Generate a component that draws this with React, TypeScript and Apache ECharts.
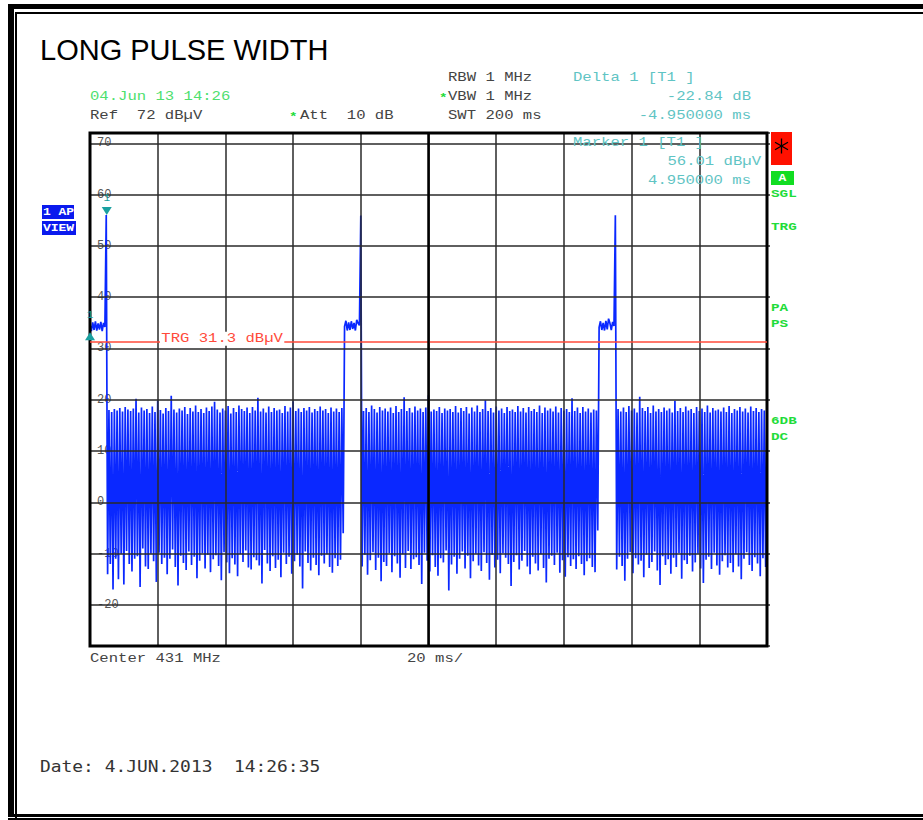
import React, { useEffect, useRef } from "react";
import * as echarts from "echarts";

// ---------- data ----------
const SWEEP_MS = 200;
const DIV_MS = 20;
const REF_LEVEL = 72;
const Y_MIN = -28;
const TRG_LEVEL = 31.3;
const MARKER1 = { t: 4.95, v: 56.01 };
const DELTA1 = { dt: -4.95, dv: -22.84 };

const pulse1 = [34.6, 33.4, 35.1, 33.6, 35.3, 33.5, 34.9, 33.7, 35.2, 33.4, 35.0, 34.2];
const spike1 = [56.01];
const noise1 = [
  -14, 18, -12, 17.6, -17, 18.2, -11, 17.9, -15, 18.4, -10, 17.7, -16, 18.6, -9.5, 18.1, -12, 17.8, -13.5, 18.3,
  -11, 20.2, -10.5, 17.5, -16.5, 18.5, -9, 17.9, -12.5, 18.2, -13, 17.4, -10, 18.7, -11.5, 17.6, -15.5, 19.8, -9.8, 18.0,
  -12, 17.3, -10.8, 18.4, -14, 17.8, -11, 20.8, -9.2, 18.1, -12.6, 17.5, -16.2, 18.3, -10.4, 17.9, -11.8, 18.6, -13.2, 17.2,
  -9.6, 18.4, -12.2, 17.7, -10.6, 18.9, -14.8, 17.6, -11.4, 18.2, -9.9, 17.4, -12.9, 18.5, -10.2, 17.8, -13.6, 18.7, -11.1, 19.6,
  -10.3, 18.1, -12.4, 17.5, -15.2, 18.3, -9.7, 17.9, -11.7, 18.8, -13.8, 17.3, -10.9, 18.4, -12.1, 17.6, -14.4, 18.9, -10.1, 18.2,
  -11.6, 17.8, -9.4, 18.5, -12.7, 17.4, -13.1, 18.6, -10.7, 17.9, -11.3, 20.4, -12.3, 17.7, -15.8, 18.3, -9.3, 17.5, -11.9, 18.7,
  -13.4, 17.6, -10.5, 18.4, -12.8, 17.9, -11.2, 18.1, -14.6, 17.4, -9.8, 18.8, -12.0, 17.7, -10.6, 18.5, -13.9, 19.7, -11.5, 17.8,
  -10.2, 18.3, -12.5, 17.6, -16.8, 18.4, -9.6, 17.9, -11.8, 18.6, -13.3, 17.5, -10.8, 18.2, -12.2, 17.8, -14.2, 18.7, -10.4, 17.9,
  -11.9, 18.2, -10.1, 17.4, -12.6, 18.5, -13.7, 17.7, -10.9, 18.3, -12.4, 17.6, -11.2, 18.4, -6.0,
];
const pulse2 = [34.3, 35.4, 33.5, 35.1, 33.6, 35.3, 33.8, 35.0, 33.5, 35.6, 34.9, 34.5];
const spike2 = [55.9];
const noise2 = [
  -12.5, 17.8, -10.2, 18.4, -14.1, 17.6, -11.3, 18.9, -9.7, 18.2, -13.2, 17.5, -10.8, 18.6, -15.4, 17.9, -11.6, 18.3, -12.4, 17.7,
  -9.9, 18.5, -13.6, 17.4, -10.5, 18.8, -11.9, 17.6, -14.7, 18.2, -10.1, 20.5, -12.8, 17.8, -9.5, 18.4, -13.0, 17.5, -11.1, 18.7,
  -10.7, 17.9, -12.2, 18.3, -15.9, 17.6, -9.8, 18.5, -11.4, 20.9, -13.5, 17.7, -10.3, 18.1, -12.6, 17.8, -14.3, 18.6, -10.9, 17.4,
  -11.7, 18.3, -9.4, 17.9, -17.2, 18.2, -12.1, 17.6, -10.6, 18.8, -13.9, 17.5, -11.0, 18.4, -9.6, 17.8, -12.9, 18.6, -10.4, 17.3,
  -14.8, 18.5, -11.5, 17.7, -10.0, 18.9, -12.3, 17.6, -13.4, 18.2, -9.7, 19.9, -11.8, 17.8, -15.1, 18.4, -10.2, 17.5, -12.7, 18.7,
  -11.2, 17.9, -13.8, 18.3, -9.9, 17.4, -10.8, 18.6, -12.0, 17.8, -16.3, 18.1, -11.6, 17.6, -10.3, 18.8, -13.1, 17.7, -11.4, 18.4,
  -9.5, 17.5, -12.5, 18.6, -14.0, 17.8, -10.6, 18.2, -11.9, 17.6, -13.3, 18.9, -10.1, 17.4, -12.8, 18.5, -15.6, 17.9, -11.0, 18.3,
  -10.4, 17.7, -12.2, 18.7, -9.8, 17.5, -13.7, 18.4, -11.3, 17.9, -14.5, 18.2, -10.7, 17.6, -12.4, 20.3, -11.1, 17.8, -13.0, 18.5,
  -10.5, 17.4, -12.0, 18.6, -14.2, 17.7, -11.5, 18.3, -10.9, 17.5, -12.6, 18.1, -13.6, 17.9, -5.5,
];
const pulse3 = [34.1, 35.3, 33.6, 35.0, 33.5, 35.4, 33.7, 35.8, 34.9, 33.6, 35.2, 34.4];
const spike3 = [55.95];
const noise3 = [
  -13.1, 18.2, -10.6, 17.7, -12.4, 18.5, -15.3, 17.6, -11.0, 18.8, -9.7, 17.9, -13.8, 18.3, -10.9, 17.5, -12.1, 20.6, -11.4, 18.4,
  -14.6, 17.8, -10.2, 18.6, -12.8, 17.4, -11.6, 18.9, -9.6, 17.7, -13.3, 18.2, -16.1, 17.6, -10.5, 18.5, -12.2, 17.9, -11.1, 18.3,
  -13.9, 17.5, -10.8, 19.8, -12.6, 17.8, -9.9, 18.4, -14.9, 17.6, -11.3, 18.7, -12.0, 17.9, -10.4, 18.2, -13.5, 17.4, -11.7, 18.6,
  -10.0, 17.8, -12.9, 18.3, -15.7, 17.6, -11.2, 18.9, -10.6, 17.5, -13.0, 18.4, -9.8, 17.9, -12.3, 18.1, -14.1, 17.7, -11.5, 18.5,
  -10.3, 17.6, -12.7, 18.8, -11.8, 17.4, -13.6, 18.2, -10.1, 17.9, -12.5, 18.6, -15.0, 17.7, -11.0, 18.3, -9.7, 17.5, -12.2, 18.7,
  -13.4, 17.8, -10.7, 18.4, -11.9, 17.6, -14.4, 18.2, -10.9, 17.9, -12.6, 18.5,
];

const traceValues = [
  ...pulse1, ...spike1, ...noise1,
  ...pulse2, ...spike2, ...noise2,
  ...pulse3, ...spike3, ...noise3,
];

// ---------- colours ----------
const GRAY = "#444";
const CYAN = "#5fc4c4";
const LGREEN = "#4ee06e";
const GREEN = "#1fdc3a";
const TEAL = "#1aa0a0";
const BLUE = "#0a28ff";
const RED = "#ff4a3a";
const MONO = '"Liberation Mono", "Courier New", monospace';

function mono(text: string, x: number, y: number, color: string, align: string = "left", extra: any = {}) {
  return {
    type: "text",
    x,
    y,
    scaleX: 1.3,
    z: 5,
    silent: true,
    style: {
      text,
      fill: color,
      fontSize: 12,
      fontFamily: MONO,
      align,
      textAlign: align,
      verticalAlign: "middle",
      textVerticalAlign: "middle",
      ...extra,
    },
  };
}

function rect(x: number, y: number, w: number, h: number, fill: string) {
  return { type: "rect", shape: { x, y, width: w, height: h }, style: { fill }, silent: true, z: 5 };
}

function seg(x1: number, y1: number, x2: number, y2: number) {
  return {
    type: "line",
    shape: { x1, y1, x2, y2 },
    style: { stroke: "#000", lineWidth: 1.3 },
    silent: true,
    z: 6,
  };
}

function sideLabel(text: string, y: number) {
  return mono(text, 771, y, GREEN, "left", { fontWeight: "bold", fontSize: 11 });
}

export default function App() {
  const ref = useRef<HTMLDivElement>(null);

  useEffect(() => {
    if (!ref.current) return;
    const chart = echarts.init(ref.current, undefined, { renderer: "svg" });
    const step = SWEEP_MS / (traceValues.length - 1);
    const data = traceValues.map((v, i) => [i * step, v]);

    // asterisk in the red status box
    const cx = 781.5;
    const cy = 146;
    const r = 7.5;
    const dx = r * Math.cos(Math.PI / 6);
    const dy = r * Math.sin(Math.PI / 6);

    const graphics: any[] = [
      // frame
      rect(8, 4, 915, 5, "#000"),
      rect(8, 4, 6, 813, "#000"),
      rect(8, 814, 915, 3, "#000"),
      rect(15, 12, 908, 2, "#000"),
      rect(15, 12, 2, 808, "#000"),
      rect(8, 818, 915, 2, "#000"),
      // title
      {
        type: "text",
        x: 40,
        y: 50,
        z: 5,
        style: {
          text: "LONG PULSE WIDTH",
          fill: "#000",
          fontSize: 29,
          fontFamily: '"Liberation Sans", Arial, sans-serif',
          align: "left",
          verticalAlign: "middle",
          textAlign: "left",
          textVerticalAlign: "middle",
        },
      },
      // header
      mono("RBW 1 MHz", 448, 78, GRAY),
      mono("*", 439, 98, GREEN, "left", { fontSize: 11, fontWeight: "bold" }),
      mono("VBW 1 MHz", 448, 97, GRAY),
      mono("SWT 200 ms", 448, 116, GRAY),
      mono("Delta 1 [T1 ]", 573, 78, CYAN),
      mono(`${DELTA1.dv.toFixed(2)} dB`, 751, 97, CYAN, "right"),
      mono(`${DELTA1.dt.toFixed(6)} ms`, 751, 116, CYAN, "right"),
      mono("04.Jun 13 14:26", 90, 97, LGREEN),
      mono(`Ref  ${REF_LEVEL} dBµV`, 90, 116, GRAY),
      mono("*", 289, 117, GREEN, "left", { fontSize: 11, fontWeight: "bold" }),
      mono("Att  10 dB", 300, 116, GRAY),
      mono("Marker 1 [T1 ]", 573, 143, CYAN),
      mono(`${MARKER1.v.toFixed(2)} dBµV`, 761, 162, CYAN, "right"),
      mono(`${MARKER1.t.toFixed(6)} ms`, 751, 181, CYAN, "right"),
      // footer
      mono("Center 431 MHz", 90, 659, GRAY),
      mono(`${DIV_MS} ms/`, 407, 659, GRAY),
      {
        type: "text",
        x: 40,
        y: 766,
        scaleX: 1.12,
        z: 5,
        style: {
          text: "Date: 4.JUN.2013  14:26:35",
          fill: "#333",
          fontSize: 16,
          fontFamily: '"DejaVu Sans Mono", monospace',
          align: "left",
          verticalAlign: "middle",
          textAlign: "left",
          textVerticalAlign: "middle",
        },
      },
      // right side indicators
      rect(771, 132, 21, 33, "#ff1100"),
      seg(cx, cy - r, cx, cy + r),
      seg(cx - dx, cy - dy, cx + dx, cy + dy),
      seg(cx - dx, cy + dy, cx + dx, cy - dy),
      rect(771, 171, 23, 14, "#11dd22"),
      mono("A", 782.5, 178, "#fff", "center", { fontWeight: "bold", fontSize: 10 }),
      sideLabel("SGL", 194),
      sideLabel("TRG", 227),
      sideLabel("PA", 308),
      sideLabel("PS", 324),
      sideLabel("6DB", 421),
      sideLabel("DC", 437),
      // left indicators
      rect(42, 205, 32, 14, "#0a1aee"),
      rect(42, 221, 34, 14, "#0a1aee"),
      mono("1 AP", 43, 212, "#fff", "left", { fontWeight: "bold", fontSize: 10 }),
      mono("VIEW", 43, 228, "#fff", "left", { fontWeight: "bold", fontSize: 10 }),
    ];

    const gridLine = { color: "#2a2a2a", width: 1.5 };

    chart.setOption({
      animation: false,
      backgroundColor: "#fff",
      grid: {
        left: 90,
        top: 133,
        right: 156,
        bottom: 174,
        show: true,
        borderColor: "#000",
        borderWidth: 3,
        backgroundColor: "transparent",
        z: 4,
        containLabel: false,
        outerBoundsMode: "none",
      },
      xAxis: [
        {
          type: "value",
          min: 0,
          max: SWEEP_MS,
          interval: DIV_MS,
          z: 3,
          axisLine: { show: false },
          axisTick: { show: false },
          axisLabel: { show: false },
          splitLine: { show: true, lineStyle: gridLine },
        },
      ],
      yAxis: [
        {
          type: "value",
          position: "left",
          min: Y_MIN,
          max: REF_LEVEL,
          splitNumber: 10,
          z: 0,
          axisLine: { show: false },
          axisTick: { show: false },
          splitLine: { show: false },
          axisLabel: {
            show: true,
            inside: true,
            margin: 7,
            showMinLabel: false,
            showMaxLabel: false,
            color: "#555",
            fontSize: 12,
            fontFamily: MONO,
            verticalAlign: "middle",
            padding: [0, 0, 5, 0],
            formatter: (v: number) => (v % 10 === 0 ? String(v) : ""),
          },
        },
        {
          type: "value",
          position: "right",
          min: Y_MIN,
          max: REF_LEVEL,
          splitNumber: 10,
          z: 3,
          axisLine: { show: false },
          axisTick: { show: true, inside: false, length: 3, lineStyle: gridLine },
          axisLabel: { show: false },
          splitLine: { show: true, lineStyle: gridLine },
        },
      ],
      graphic: { elements: graphics },
      series: [
        {
          type: "line",
          data,
          xAxisIndex: 0,
          yAxisIndex: 0,
          showSymbol: false,
          symbol: "none",
          silent: true,
          z: 2,
          lineStyle: { color: BLUE, width: 1.7 },
          markLine: {
            silent: true,
            symbol: ["none", "none"],
            animation: false,
            data: [
              { yAxis: TRG_LEVEL, lineStyle: { color: RED, width: 1.5, type: "solid" }, label: { show: false } },
              { xAxis: SWEEP_MS / 2, lineStyle: { color: "#000", width: 2.5, type: "solid" }, label: { show: false } },
            ],
          },
          markPoint: {
            silent: true,
            animation: false,
            data: [
              {
                coord: [MARKER1.t, MARKER1.v],
                symbol: "triangle",
                symbolRotate: 180,
                symbolSize: [10, 8],
                symbolOffset: [0, -4],
                itemStyle: { color: TEAL },
                label: {
                  show: true,
                  position: "top",
                  distance: 4,
                  formatter: "1",
                  color: TEAL,
                  fontSize: 11,
                  fontFamily: MONO,
                },
              },
              {
                coord: [MARKER1.t + DELTA1.dt, MARKER1.v + DELTA1.dv],
                symbol: "triangle",
                symbolSize: [10, 8],
                symbolOffset: [0, 4],
                itemStyle: { color: TEAL },
                label: {
                  show: true,
                  position: "top",
                  distance: 12,
                  formatter: "1",
                  color: TEAL,
                  fontSize: 11,
                  fontFamily: MONO,
                },
              },
            ],
          },
        },
      ],
    });

    // TRG label placed from the trigger level through the chart's own scale
    const p = chart.convertToPixel({ xAxisIndex: 0, yAxisIndex: 0 }, [0, TRG_LEVEL]) as number[];
    if (p && isFinite(p[1])) {
      chart.setOption({
        graphic: {
          elements: [
            ...graphics,
            {
              ...mono(`TRG ${TRG_LEVEL} dBµV`, p[0] + 70, p[1] - 3, RED, "left", {
                backgroundColor: "#fff",
                padding: [0, 1, 0, 1],
                lineHeight: 14,
              }),
              z: 10,
            },
          ],
        },
      });
    }

    return () => chart.dispose();
  }, []);

  return (
    <div
      ref={ref}
      style={{ position: "absolute", left: 0, top: 0, width: 923, height: 820, background: "#fff" }}
    />
  );
}
